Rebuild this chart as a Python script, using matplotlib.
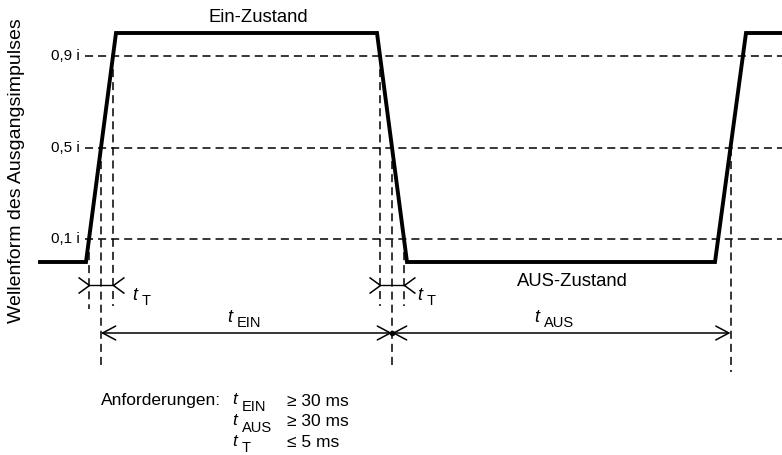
import numpy as np
import matplotlib.pyplot as plt
from matplotlib.path import Path

plt.rcParams['font.family'] = ['Liberation Sans', 'DejaVu Sans']
plt.rcParams['lines.scale_dashes'] = False

# Wellenform: Zeitpunkte (willkürliche Einheiten) und Pegel relativ zu i
t_wave = [40, 86, 116, 377, 407, 715, 746, 782]
i_wave = [0, 0, 1, 1, 0, 0, 1, 1]

levels = [0.1, 0.5, 0.9]
level_labels = ['0,1 i', '0,5 i', '0,9 i']

state_labels = ['Ein-Zustand', 'AUS-Zustand']
req_names = ['EIN', 'AUS', 'T']
req_values = ['≥ 30 ms', '≥ 30 ms', '≤ 5 ms']


def cross(seg, lvl):
    # Zeitpunkt, an dem Flanke 'seg' den Pegel lvl erreicht
    x0, x1 = t_wave[seg], t_wave[seg + 1]
    y0, y1 = i_wave[seg], i_wave[seg + 1]
    return x0 + (lvl - y0) / (y1 - y0) * (x1 - x0)


def lv(py):
    # Pixelzeile -> Pegel
    return (262 - py) / 229


fig = plt.figure(figsize=(7.82, 4.55), dpi=100)
ax = fig.add_axes([0, 0, 1, 1])
ax.set_xlim(0, 782)
ax.set_ylim(lv(455), lv(0))
ax.axis('off')

dash = dict(color='black', lw=1.1, dashes=(5.8, 3.6))

# Pegellinien
for lvl, lab in zip(levels, level_labels):
    ax.plot([85, 782], [lvl, lvl], **dash)
    ax.text(80, lvl, lab, ha='right', va='center', fontsize=11)

r1 = {l: cross(1, l) for l in levels}
f1 = {l: cross(3, l) for l in levels}
r2 = {l: cross(5, l) for l in levels}

# senkrechte Hilfslinien
for x, top, bot in [(r1[0.1], 0.1, lv(309)), (r1[0.9], 0.9, lv(306)), (r1[0.5], 0.5, lv(370)),
                    (f1[0.9], 0.9, lv(306)), (f1[0.1], 0.1, lv(306)), (f1[0.5], 0.5, lv(370)),
                    (r2[0.5], 0.5, lv(372))]:
    ax.plot([x, x], [top, bot], **dash)

# Wellenform
ax.plot(t_wave, i_wave, color='black', lw=2.8, solid_joinstyle='miter')

# t_T Bemaßung (Pfeile von außen)
head_r = Path([(-1, 0.73), (0, 0), (-1, -0.73)])
head_l = Path([(1, 0.73), (0, 0), (1, -0.73)])
yT = lv(285)
for a, b in [(r1[0.1], r1[0.9]), (f1[0.9], f1[0.1])]:
    ax.plot([a, b], [yT, yT], color='black', lw=1)
    ax.plot([a], [yT], marker=head_r, ms=15.8, mfc='none', mec='black', mew=1.1)
    ax.plot([b], [yT], marker=head_l, ms=15.8, mfc='none', mec='black', mew=1.1)

# t_EIN / t_AUS Bemaßung
yD = lv(333)
arrow = dict(arrowstyle='<->,head_length=0.94,head_width=0.5', lw=1.1, color='black',
             shrinkA=0, shrinkB=0, mutation_scale=10)
ax.annotate('', xy=(f1[0.5], yD), xytext=(r1[0.5], yD), arrowprops=arrow)
ax.annotate('', xy=(r2[0.5], yD), xytext=(f1[0.5], yD), arrowprops=arrow)
ax.plot([f1[0.5]], [yD], 'ko', ms=3)

# Beschriftungen
ax.text(258, lv(17), state_labels[0], ha='center', va='center', fontsize=13.3)
ax.text(572, lv(282), state_labels[1], ha='center', va='center', fontsize=13.3)


def tlabel(x, py, sub, dy, fs=13, fs_sub=10.5):
    ax.text(x, lv(py), 't', ha='center', va='center', fontsize=fs, style='italic')
    ax.text(x + 7, lv(py + dy), sub, ha='left', va='center', fontsize=fs_sub)


tlabel(135, 296, 'T', 5)
tlabel(420, 296, 'T', 5)
tlabel(230, 317, 'EIN', 6)
tlabel(537, 317, 'AUS', 6)

ax.text(17, lv(171), 'Wellenform des Ausgangsimpulses', rotation=90,
        ha='center', va='center', fontsize=14)

# Anforderungen
ax.text(101, lv(401), 'Anforderungen:', ha='left', va='center', fontsize=12.5)
for k, (name, val) in enumerate(zip(req_names, req_values)):
    py = 400 + 20.5 * k
    tlabel(235, py, name, 7, fs=12.5, fs_sub=10.5)
    ax.text(287, lv(py + 1.5), val, ha='left', va='center', fontsize=12.5)

fig.savefig('out.png', dpi=100)
